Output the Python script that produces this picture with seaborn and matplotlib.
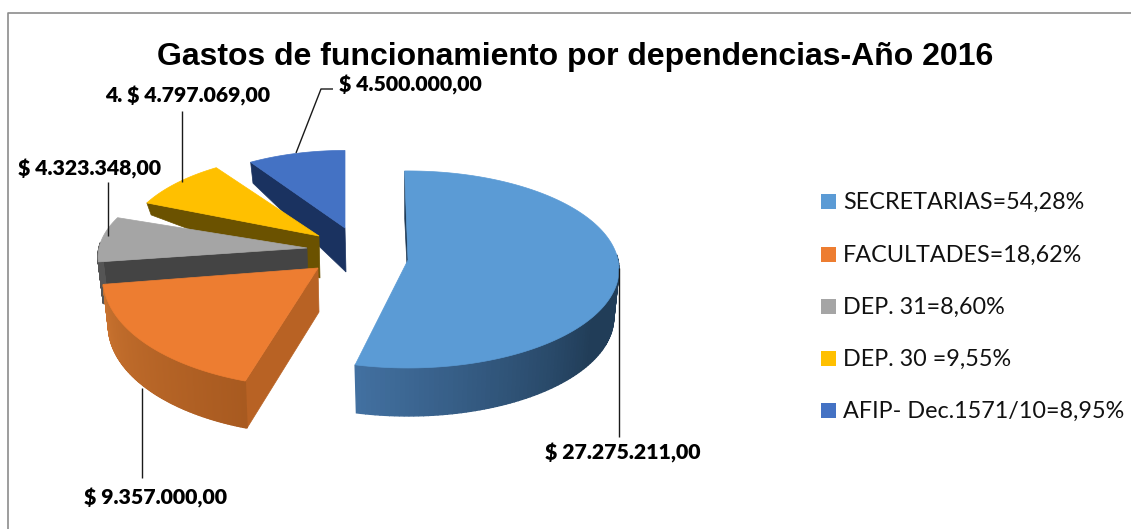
import numpy as np
import matplotlib
matplotlib.use("Agg")
import matplotlib.pyplot as plt
from matplotlib.colors import to_rgb
from matplotlib.patches import Polygon, Rectangle
import seaborn as sns

# ---- data ----
dependencias = ["SECRETARIAS", "FACULTADES", "DEP. 31", "DEP. 30", "AFIP"]
montos = [27275211.0, 9357000.0, 4323348.0, 4797069.0, 4500000.0]
leyendas = ["SECRETARIAS=54,28%", "FACULTADES=18,62%", "DEP. 31=8,60%",
            "DEP. 30 =9,55%", "AFIP- Dec.1571/10=8,95%"]
etiquetas = ["$ 27.275.211,00", "$ 9.357.000,00", "$ 4.323.348,00",
             "4. $ 4.797.069,00", "$ 4.500.000,00"]
titulo = "Gastos de funcionamiento por dependencias-Año 2016"

# ---- styling / layout ----
sns.set_theme(style="white")
top_cols = sns.color_palette(["#5b9bd5", "#ed7d31", "#a5a5a5", "#ffc000", "#4472c4"])
face_cols = ["#1f3a55", "#b86224", "#444444", "#6b5200", "#1a3260"]
rim_a = ["#213d58", "#a85a20", "#555555", "#6b5200", "#1a3260"]
rim_b = ["#4270a0", "#c8722f", "#555555", "#6b5200", "#1a3260"]
apex = [(408, 260), (318, 268), (307, 248), (319, 236), (345, 228)]
radx = [210, 214, 208, 193, 186]
rady = [97.6, 108, 92, 90, 85]
trim_start = [0, 3.6, 0, 0, 0]
trim_end = [-1.2, 0, -2.5, -1.8, 1.0]
dep_rim = [48, 47, 42, 12, 21]
dep_apex = [48, 44, 42, 42, 44]
persp = 0.096
shrink = 0.975
rotation = -1.0
order = [4, 3, 2, 1, 0]

fig = plt.figure(figsize=(11.31, 5.29), dpi=100)
ax = fig.add_axes([0, 0, 1, 1])
ax.set_xlim(0, 1131)
ax.set_ylim(529, 0)
ax.axis("off")
ax.plot([7.5, 7.5, 1131], [529, 12.5, 12.5], color="#8c8c8c", lw=1.2)

fractions = np.array(montos) / np.sum(montos)
edges = rotation + np.concatenate([[0], np.cumsum(fractions)]) * 360


def project(i, theta):
    t = np.radians(theta)
    u, v = np.sin(t), -np.cos(t)
    g = 1 / (1 - persp * v)
    return apex[i][0] + radx[i] * u * g, apex[i][1] + rady[i] * v * g, v


for i in order:
    start = edges[i] + trim_start[i]
    end = edges[i + 1] + trim_end[i]
    th = np.linspace(start, end, 160)
    x, y, v = project(i, th)
    ax0, ay0 = apex[i]
    # cut face at the start of the slice
    face = [(x[0], y[0]), (ax0, ay0), (ax0 + 1, ay0 + dep_apex[i]),
            (ax0 + (x[0] - ax0) * shrink, y[0] + dep_rim[i])]
    ax.add_patch(Polygon(face, fc=face_cols[i], ec=face_cols[i], lw=0.5))
    # outer rim, shaded along the visible arc
    ca, cb = np.array(to_rgb(rim_a[i])), np.array(to_rgb(rim_b[i]))
    vis = np.where(v > -0.06)[0]
    for n, (a, b) in enumerate(zip(vis[:-1], vis[1:])):
        if b != a + 1:
            continue
        f = n / max(len(vis) - 2, 1)
        f = min(1.0, max(0.0, (f - 0.35) / 0.65)) if i == 0 else f
        c = ca + (cb - ca) * f
        xa, xb = ax0 + (x[a] - ax0) * shrink, ax0 + (x[b] - ax0) * shrink
        ax.add_patch(Polygon([(x[a], y[a]), (x[b], y[b]),
                              (xb, y[b] + dep_rim[i]), (xa, y[a] + dep_rim[i])],
                             fc=c, ec=c, lw=1.0))
    # top surface
    ax.add_patch(Polygon(np.vstack([np.column_stack([x, y]), [ax0, ay0]]),
                         fc=top_cols[i], ec=top_cols[i], lw=0.5))

# ---- leader lines ----
leaders = [[(619, 268), (619, 437)], [(142, 388), (142, 478)],
           [(108, 182), (108, 236)], [(182, 111), (182, 182)],
           [(333, 89), (321, 89), (296, 153)]]
for pts in leaders:
    xs, ys = zip(*pts)
    ax.plot(xs, ys, color="#1a1a1a", lw=1.0, solid_capstyle="butt")

# ---- labels ----
lab_pos = [(623, 453), (155.5, 498), (90, 169), (188, 96), (410.5, 85)]
for (lx, ly), s in zip(lab_pos, etiquetas):
    ax.text(lx, ly, s, family="Lato", weight="heavy", fontsize=15.3,
            color="black", ha="center", va="center")

ax.text(575, 56.5, titulo, family="Liberation Sans", weight="bold", fontsize=23,
        color="black", ha="center", va="center")

# ---- legend ----
rows = [202, 255, 307, 359, 411]
for s, yy, c in zip(leyendas, rows, top_cols):
    ax.add_patch(Rectangle((821, yy - 8), 15, 15, fc=c, ec="none"))
    ax.text(843, yy, s, family="Lato", fontsize=16.8, color="#111111",
            ha="left", va="center")

fig.savefig("out.png", dpi=100)
